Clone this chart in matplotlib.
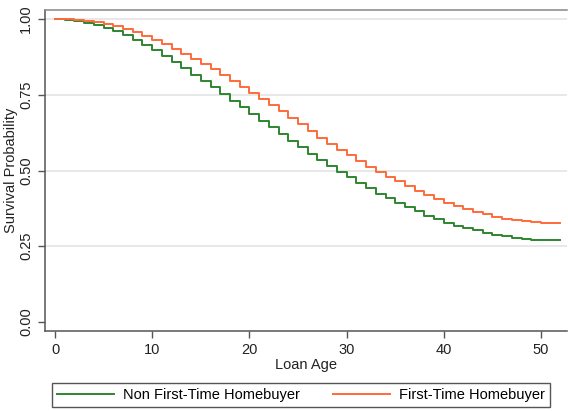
import numpy as np
import matplotlib
matplotlib.use("Agg")
import matplotlib.pyplot as plt

plt.rcParams['font.family'] = ['Liberation Sans', 'DejaVu Sans']

# loan age (months) and survival estimates
loan_age = list(range(0, 53))
non_first = [1.000, 0.997, 0.993, 0.987, 0.981, 0.971, 0.960, 0.946, 0.931, 0.916,
             0.898, 0.878, 0.857, 0.837, 0.816, 0.795, 0.775, 0.753, 0.731, 0.709,
             0.687, 0.665, 0.643, 0.620, 0.598, 0.576, 0.555, 0.535, 0.514, 0.495,
             0.477, 0.459, 0.441, 0.424, 0.408, 0.393, 0.379, 0.365, 0.351, 0.339,
             0.328, 0.318, 0.309, 0.302, 0.295, 0.288, 0.283, 0.278, 0.274, 0.272,
             0.270, 0.270, 0.270]
first_time = [1.000, 0.999, 0.997, 0.994, 0.990, 0.984, 0.976, 0.967, 0.956, 0.944,
              0.931, 0.917, 0.902, 0.886, 0.869, 0.852, 0.834, 0.815, 0.796, 0.777,
              0.757, 0.737, 0.716, 0.695, 0.673, 0.652, 0.629, 0.607, 0.587, 0.568,
              0.550, 0.530, 0.513, 0.496, 0.480, 0.464, 0.449, 0.433, 0.419, 0.405,
              0.394, 0.383, 0.372, 0.363, 0.356, 0.348, 0.341, 0.337, 0.333, 0.329,
              0.327, 0.327, 0.327]
labels = ["Non First-Time Homebuyer", "First-Time Homebuyer"]
yticks = [0.00, 0.25, 0.50, 0.75, 1.00]
xticks = [0, 10, 20, 30, 40, 50]

W, H = 568, 411
fs = 10.5
fig = plt.figure(figsize=(W / 100, H / 100), dpi=100)
ax = fig.add_axes([45 / W, 1 - 331 / H, (567 - 45) / W, (331 - 10) / H])

ax.step(loan_age, non_first, where="post", color="#2e862e", lw=1.4, label=labels[0])
ax.step(loan_age, first_time, where="post", color="#ff6a3a", lw=1.4, label=labels[1])

ax.set_xlim(-1.03, 52.67)
ax.set_ylim(-0.03, 1.03)
ax.set_xticks(xticks)
ax.set_yticks(yticks)
ax.set_yticklabels(["%.2f" % v for v in yticks], rotation=90, va="center")
for v in yticks[1:]:
    ax.axhline(v, color="#e6e6e6", lw=1.3, zorder=0)

for s in ["left", "bottom", "top"]:
    ax.spines[s].set_color("#555555")
    ax.spines[s].set_linewidth(1.1)
ax.spines["top"].set_color("#888888")
ax.spines["right"].set_visible(False)
ax.tick_params(colors="#555555", labelcolor="#222222", labelsize=fs, length=5, width=1)

ax.set_xlabel("Loan Age", fontsize=fs, color="#222222", labelpad=1)
ax.set_ylabel("Survival Probability", fontsize=fs, color="#222222", labelpad=1)

fig.legend(loc="lower left", bbox_to_anchor=(52 / W, 1 - 407 / H),
           ncol=2, fancybox=False, edgecolor="#555555", fontsize=fs,
           handlelength=3.9, handletextpad=0.6, columnspacing=2.3,
           borderpad=0.35, borderaxespad=0, framealpha=1)

fig.savefig("out.png", dpi=100)
